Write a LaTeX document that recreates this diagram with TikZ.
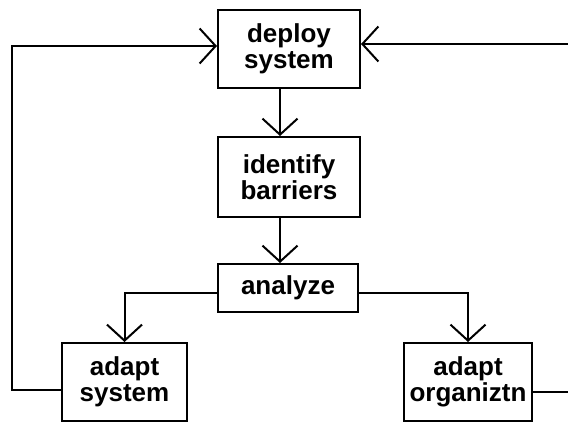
\documentclass[tikz,border=0pt]{standalone}
\usepackage{fontspec}
\setmainfont{Liberation Sans}
\usetikzlibrary{arrows.meta}
\tikzset{
  box/.style={draw, line width=2pt, inner sep=0pt, align=center,
    font=\bfseries\fontsize{26}{26}\selectfont},
  link/.style={line width=2pt},
  arr/.style={link, -{Straight Barb[length=16pt, width=35pt]}}
}
\begin{document}
\begin{tikzpicture}[x=1pt, y=-1pt]
  \useasboundingbox (0,0) rectangle (568,423);

  % process boxes
  \node[box, minimum width=142pt, minimum height=78pt] (deploy) at (289,49) {deploy\\system};
  \node[box, minimum width=142pt, minimum height=80pt] (ident) at (289,177) {identify\\barriers};
  \node[box, minimum width=140pt, minimum height=48pt] (anal) at (288,288) {analyze};
  \node[box, minimum width=125pt, minimum height=78pt] (adsys) at (124.5,382) {adapt\\system};
  \node[box, minimum width=128pt, minimum height=78pt] (adorg) at (468,382) {adapt\\organiztn};

  % corner points of the two feedback loops
  \coordinate (lx) at (12,200);
  \coordinate (rx) at (572,200);

  % main flow
  \draw[arr] ([xshift=-9pt]deploy.south) -- ([xshift=-9pt]ident.north);
  \draw[arr] ([xshift=-9pt]ident.south) -- ([xshift=-8pt]anal.north);
  \draw[arr] ([yshift=-5pt]anal.west) -| (adsys.north);
  \draw[arr] ([yshift=-5pt]anal.east) -| (adorg.north);

  % feedback loops back to deployment
  \draw[arr] ([yshift=-8pt]adsys.west) -| (lx) |- ([yshift=3pt]deploy.west);
  \draw[arr] ([yshift=-10pt]adorg.east) -| (rx) |- ([yshift=5pt]deploy.east);
\end{tikzpicture}
\end{document}
